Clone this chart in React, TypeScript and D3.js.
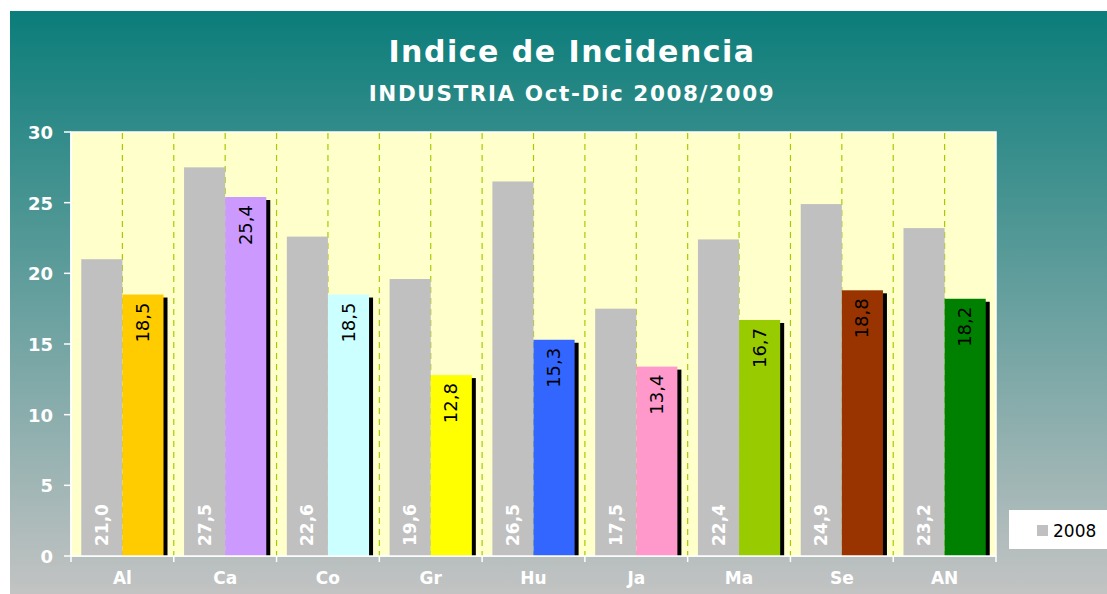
import React from "react";
import * as d3 from "d3";

const categories = ["Al", "Ca", "Co", "Gr", "Hu", "Ja", "Ma", "Se", "AN"];
const values2008 = [21.0, 27.5, 22.6, 19.6, 26.5, 17.5, 22.4, 24.9, 23.2];
const values2009 = [18.5, 25.4, 18.5, 12.8, 15.3, 13.4, 16.7, 18.8, 18.2];
const colors2009 = ["#FFCC00", "#CC99FF", "#CCFFFF", "#FFFF00", "#3366FF", "#FF99CC", "#99CC00", "#993300", "#008000"];
const yTicks = [0, 5, 10, 15, 20, 25, 30];
const legendLabel = "2008";
const title = "Indice de Incidencia";
const subtitle = "INDUSTRIA Oct-Dic 2008/2009";

const W = 1107;
const H = 594;
const plot = { left: 71, right: 996, top: 132, bottom: 556 };
const FONT = "'DejaVu Sans', Verdana, sans-serif";

const fmt = (v: number) => v.toFixed(1).replace(".", ",");

export default function App() {
  const x = d3.scaleBand<string>().domain(categories).range([plot.left, plot.right]).padding(0);
  const y = d3.scaleLinear().domain([0, 30]).range([plot.bottom, plot.top]);
  const bw = x.bandwidth();
  const barW = bw * 0.4;

  const gridXs: number[] = [];
  categories.forEach((c, i) => {
    gridXs.push((x(c) as number) + bw / 2);
    if (i > 0) gridXs.push(x(c) as number);
  });

  return (
    <svg width={W} height={H} style={{ position: "absolute", left: 0, top: 0, display: "block" }} fontFamily={FONT}>
      <defs>
        <linearGradient id="bg" x1="0" y1="0" x2="0" y2="1">
          <stop offset="0%" stopColor="#0b7d7a" />
          <stop offset="100%" stopColor="#c3c3c3" />
        </linearGradient>
        <clipPath id="plotClip">
          <rect x={plot.left} y={plot.top} width={plot.right - plot.left} height={plot.bottom - plot.top} />
        </clipPath>
      </defs>
      <rect x={0} y={0} width={W} height={H} fill="#ffffff" />
      <rect x={10} y={11} width={W - 10} height={H - 11} fill="url(#bg)" />

      <text x={572} y={62} textAnchor="middle" fill="#ffffff" fontSize={30} fontWeight="bold" letterSpacing={1.5}>{title}</text>
      <text x={572} y={101} textAnchor="middle" fill="#ffffff" fontSize={21.5} fontWeight="bold" letterSpacing={1.6}>{subtitle}</text>

      <rect x={plot.left} y={plot.top} width={plot.right - plot.left} height={plot.bottom - plot.top} fill="#FFFFCC" stroke="#ffffff" strokeWidth={1.5} />

      {gridXs.map((gx, i) => (
        <line key={"g" + i} x1={gx} x2={gx} y1={plot.top + 1} y2={plot.bottom} stroke="#A6CC00" strokeWidth={1.2} strokeDasharray="6,5" />
      ))}

      <g clipPath="url(#plotClip)">
        {categories.map((c, i) => {
          const x0 = (x(c) as number) + bw * 0.1;
          return <rect key={"a" + c} x={x0} y={y(values2008[i])} width={barW} height={y(0) - y(values2008[i])} fill="#C0C0C0" />;
        })}
        {categories.map((c, i) => {
          const x1 = (x(c) as number) + bw * 0.5;
          return <rect key={"s" + c} x={x1 + 4} y={y(values2009[i]) + 3} width={barW} height={y(0) - y(values2009[i])} fill="#000000" />;
        })}
        {categories.map((c, i) => {
          const x1 = (x(c) as number) + bw * 0.5;
          return <rect key={"b" + c} x={x1} y={y(values2009[i])} width={barW} height={y(0) - y(values2009[i])} fill={colors2009[i]} />;
        })}
      </g>

      {categories.map((c, i) => {
        const cx = (x(c) as number) + bw * 0.3;
        const by = y(0) - 10;
        return (
          <text key={"la" + c} transform={`translate(${cx + 6},${by}) rotate(-90)`} fill="#ffffff" fontSize={17} fontWeight="bold">{fmt(values2008[i])}</text>
        );
      })}
      {categories.map((c, i) => {
        const cx = (x(c) as number) + bw * 0.7;
        const ty = y(values2009[i]) + 8;
        return (
          <text key={"lb" + c} transform={`translate(${cx + 6},${ty}) rotate(-90)`} textAnchor="end" fill="#000000" fontSize={18}>{fmt(values2009[i])}</text>
        );
      })}

      {/* axes */}
      <line x1={plot.left} x2={plot.left} y1={plot.top} y2={plot.bottom} stroke="#ffffff" strokeWidth={1.5} />
      <line x1={plot.left} x2={plot.right} y1={plot.bottom} y2={plot.bottom} stroke="#ffffff" strokeWidth={1.5} />
      {yTicks.map((t) => (
        <g key={"yt" + t}>
          <line x1={64} x2={plot.left} y1={y(t)} y2={y(t)} stroke="#ffffff" strokeWidth={1.5} />
          <text x={53} y={y(t) + 7} textAnchor="end" fill="#ffffff" fontSize={18} fontWeight="bold">{t}</text>
        </g>
      ))}
      {[...categories.map((c) => x(c) as number), plot.right].map((tx, i) => (
        <line key={"xt" + i} x1={tx} x2={tx} y1={plot.bottom} y2={plot.bottom + 6} stroke="#ffffff" strokeWidth={1.5} />
      ))}
      {categories.map((c) => (
        <text key={"xl" + c} x={(x(c) as number) + bw / 2} y={584} textAnchor="middle" fill="#ffffff" fontSize={17} fontWeight="bold">{c}</text>
      ))}

      {/* legend */}
      <rect x={1009} y={510} width={W - 1009} height={39} fill="#ffffff" />
      <rect x={1037} y={525} width={11} height={11} fill="#C0C0C0" />
      <text x={1053} y={537} fill="#000000" fontSize={17}>{legendLabel}</text>
    </svg>
  );
}
